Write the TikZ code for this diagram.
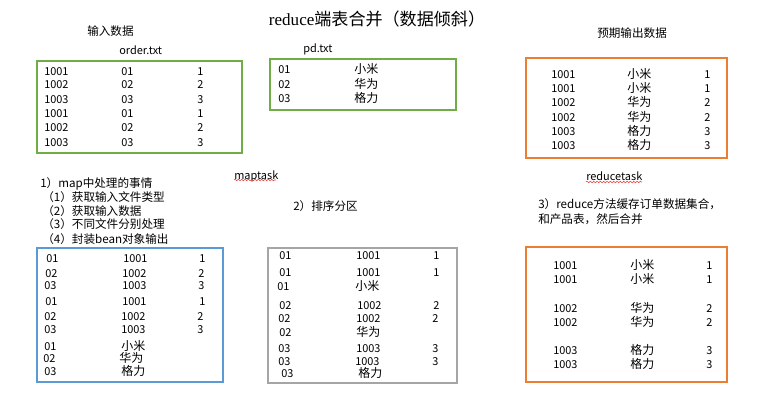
\documentclass[tikz,border=0pt]{standalone}
\usepackage{fontspec}
\setmainfont{Noto Sans CJK SC}
\newfontfamily\titleserif{Liberation Serif}
\usetikzlibrary{decorations.pathmorphing}
\definecolor{boxgreen}{RGB}{112,173,71}
\definecolor{boxorange}{RGB}{237,125,49}
\definecolor{boxblue}{RGB}{91,155,213}
\definecolor{boxgray}{RGB}{165,165,165}
\definecolor{squig}{RGB}{230,60,60}
\begin{document}
\begin{tikzpicture}[x=0.75pt,y=-0.75pt,
  txt/.style={inner sep=0pt, anchor=west, text height=0.8em, text depth=0.2em, font=\fontsize{8.2}{10}\selectfont},
  cjk/.style={txt, font=\fontsize{9}{10}\selectfont},
  lbl/.style={txt, font=\fontsize{8.7}{10}\selectfont},
  frame/.style={line width=0.9pt},
  wavy/.style={squig, line width=0.4pt, decorate, decoration={snake, amplitude=0.6pt, segment length=2.5pt}}]
\useasboundingbox (0,0) rectangle (762,403);

% title and headings
\node[inner sep=0pt, text height=0.8em, text depth=0.2em, font=\fontsize{12.8}{14}\selectfont] (title) at (377,22) {{\titleserif reduce}端表合并（数据倾斜）};
\node[lbl] (inlbl) at (87,32) {输入数据};
\node[lbl] (outlbl) at (597,34) {预期输出数据};
\node[txt] (ordername) at (119,51) {order.txt};
\node[txt] (pdname) at (303,49) {pd.txt};

% boxes
\draw[frame, boxgreen] (37,61) rectangle (242,153);
\draw[frame, boxgreen] (270,59) rectangle (456,110);
\draw[frame, boxorange] (526,58) rectangle (727,158);
\draw[frame, boxblue] (37,248) rectangle (223,382);
\draw[frame, boxgray] (268,248) rectangle (457,383);
\draw[frame, boxorange] (526,247) rectangle (727,382);

% order.txt
\foreach \i/\y/\a/\b/\c in {1/71/1001/01/1, 2/85/1002/02/2, 3/99/1003/03/3, 4/113/1001/01/1, 5/127/1002/02/2, 6/142/1003/03/3}{
  \node[txt] (oa\i) at (44,\y) {\a};
  \node[txt] (ob\i) at (121,\y) {\b};
  \node[txt] (oc\i) at (197,\y) {\c};
}
% pd.txt
\foreach \i/\y/\a/\b in {1/70/01/小米, 2/84/02/华为, 3/98/03/格力}{
  \node[txt] (pa\i) at (278,\y) {\a};
  \node[cjk] (pb\i) at (354,\y) {\b};
}
% expected output
\foreach \i/\y/\a/\b/\c in {1/74/1001/小米/1, 2/88/1001/小米/1, 3/102/1002/华为/2, 4/117/1002/华为/2, 5/131/1003/格力/3, 6/145/1003/格力/3}{
  \node[txt] (ea\i) at (551,\y) {\a};
  \node[cjk] (eb\i) at (627,\y) {\b};
  \node[txt] (ec\i) at (704,\y) {\c};
}

% middle texts
\node[txt] (maptask) at (234,175) {maptask};
\draw[wavy] (234,180) -- (276,180);
\node[txt] (reducetask) at (586,176) {reducetask};
\draw[wavy] (586,182) -- (642,182);

\node[lbl] (m0) at (40,183) {1）map中处理的事情};
\node[lbl] (m1) at (42,197) {（1）获取输入文件类型};
\node[lbl] (m2) at (42,211) {（2）获取输入数据};
\node[lbl] (m3) at (42,224) {（3）不同文件分别处理};
\node[lbl] (m4) at (42,239) {（4）封装bean对象输出};
\node[lbl] (s0) at (293,206) {2）排序分区};
\node[lbl] (r0) at (538,204) {3）reduce方法缓存订单数据集合，};
\node[lbl] (r1) at (538,219) {和产品表，然后合并};

% map output (blue)
\foreach \i/\y/\xa/\a/\xb/\b/\xc/\c in {1/258/46/01/123/1001/199/1, 2/273/45/02/122/1002/198/2, 3/285/44/03/122/1003/198/3, 4/301/45/01/122/1001/199/1, 5/316/44/02/121/1002/197/2, 6/329/44/03/121/1003/197/3}{
  \node[txt] (ba\i) at (\xa,\y) {\a};
  \node[txt] (bb\i) at (\xb,\y) {\b};
  \node[txt] (bc\i) at (\xc,\y) {\c};
}
\foreach \i/\y/\xa/\a/\xb/\b in {7/346/44/01/121/小米, 8/358/43/02/119/华为, 9/371/44/03/121/格力}{
  \node[txt] (ba\i) at (\xa,\y) {\a};
  \node[cjk] (bb\i) at (\xb,\y) {\b};
}

% sorted partitions (gray)
\foreach \i/\y/\xa/\a/\xb/\b/\xc/\c in {1/255/279/01/356/1001/433/1, 2/272/279/01/356/1001/433/1, 4/305/279/02/357/1002/433/2, 5/318/278/02/356/1002/432/2, 7/348/278/03/356/1003/432/3, 8/361/278/03/355/1003/432/3}{
  \node[txt] (ga\i) at (\xa,\y) {\a};
  \node[txt] (gb\i) at (\xb,\y) {\b};
  \node[txt] (gc\i) at (\xc,\y) {\c};
}
\foreach \i/\y/\xa/\a/\xb/\b in {3/286/277/01/355/小米, 6/332/279/02/356/华为, 9/373/281/03/358/格力}{
  \node[txt] (ga\i) at (\xa,\y) {\a};
  \node[cjk] (gb\i) at (\xb,\y) {\b};
}

% reduce output (orange)
\foreach \i/\y/\a/\b/\c in {1/265/1001/小米/1, 2/279/1001/小米/1, 3/308/1002/华为/2, 4/322/1002/华为/2, 5/350/1003/格力/3, 6/364/1003/格力/3}{
  \node[txt] (ra\i) at (553,\y) {\a};
  \node[cjk] (rb\i) at (630,\y) {\b};
  \node[txt] (rc\i) at (706,\y) {\c};
}
\end{tikzpicture}
\end{document}
